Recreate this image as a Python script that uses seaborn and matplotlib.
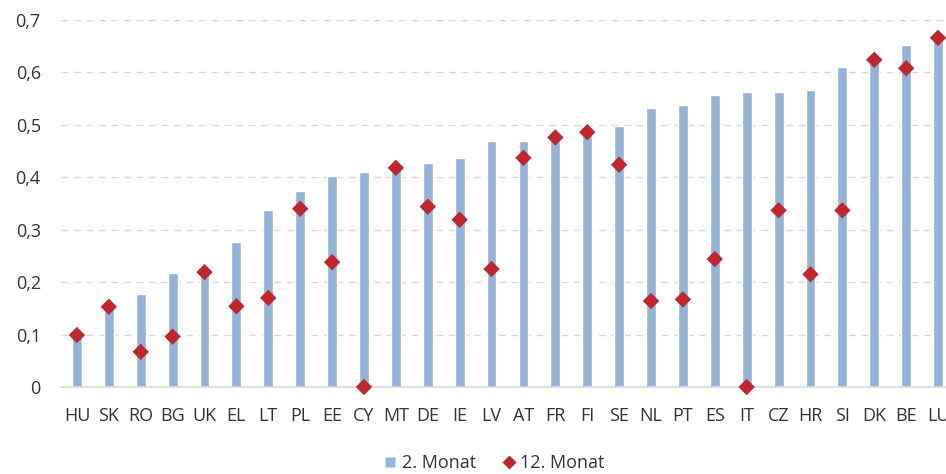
import matplotlib
matplotlib.use("Agg")
import matplotlib.pyplot as plt
from matplotlib.lines import Line2D
from matplotlib.ticker import FuncFormatter
import seaborn as sns
import pandas as pd

countries = ["HU", "SK", "RO", "BG", "UK", "EL", "LT", "PL", "EE", "CY", "MT", "DE",
             "IE", "LV", "AT", "FR", "FI", "SE", "NL", "PT", "ES", "IT", "CZ", "HR",
             "SI", "DK", "BE", "LU"]
month_2 = [0.100, 0.153, 0.177, 0.218, 0.215, 0.276, 0.337, 0.373, 0.402, 0.411, 0.415, 0.427,
           0.437, 0.469, 0.469, 0.472, 0.495, 0.498, 0.533, 0.537, 0.556, 0.562, 0.562, 0.566,
           0.611, 0.620, 0.653, 0.665]
month_12 = [0.099, 0.153, 0.067, 0.096, 0.219, 0.154, 0.170, 0.340, 0.238, 0.000, 0.418, 0.344,
            0.319, 0.225, 0.437, 0.476, 0.486, 0.424, 0.164, 0.167, 0.244, 0.000, 0.337, 0.215,
            0.337, 0.624, 0.608, 0.666]
series_labels = ["2. Monat", "12. Monat"]

df = pd.DataFrame({"land": countries, "m2": month_2, "m12": month_12})

BAR_COLOR = "#95B3D7"
DOT_COLOR = "#C0262D"
TEXT_COLOR = "#333333"

sns.set_style("white")
plt.rcParams["font.family"] = ["Open Sans", "DejaVu Sans"]

W, H = 946, 474
fig = plt.figure(figsize=(W / 100, H / 100), dpi=100)
# the plot area runs past the right edge, so the last column is clipped
ax = fig.add_axes([61 / W, (H - 387) / H, (954 - 61) / W, (387 - 20) / H])

sns.barplot(data=df, x="land", y="m2", color=BAR_COLOR, width=0.31,
            saturation=1, ax=ax, zorder=2)
sns.scatterplot(data=df, x="land", y="m12", marker="D", s=70, color=DOT_COLOR,
                edgecolor="none", ax=ax, zorder=3, clip_on=False)

ax.set_xlim(-0.5, len(countries) - 0.5)
ax.set_ylim(0, 0.7)
ax.set_yticks([i / 10 for i in range(8)])
ax.yaxis.set_major_formatter(FuncFormatter(
    lambda v, _: "0" if abs(v) < 1e-9 else f"{v:.1f}".replace(".", ",")))
ax.grid(axis="y", color="#D9D9D9", linestyle=(0, (5, 4)), linewidth=1.0, zorder=0)
ax.set_axisbelow(True)

for side in ("top", "right", "left"):
    ax.spines[side].set_visible(False)
ax.spines["bottom"].set_color("#D9D9D9")
ax.spines["bottom"].set_linewidth(1.2)

ax.tick_params(axis="both", length=0, labelsize=13, colors=TEXT_COLOR)
ax.tick_params(axis="y", pad=14.5)
ax.tick_params(axis="x", pad=14.5)
ax.set_xlabel("")
ax.set_ylabel("")

handles = [
    Line2D([], [], marker="s", linestyle="none", markersize=6.5,
           markerfacecolor=BAR_COLOR, markeredgecolor="none"),
    Line2D([], [], marker="D", linestyle="none", markersize=7,
           markerfacecolor=DOT_COLOR, markeredgecolor="none"),
]
fig.legend(handles, series_labels, loc="center", bbox_to_anchor=(492 / W, 1 - 463 / H),
           ncol=2, frameon=False, fontsize=13, handletextpad=0.05, columnspacing=1.2,
           handlelength=1.2, labelcolor=TEXT_COLOR)

fig.savefig("out.png", dpi=100)
